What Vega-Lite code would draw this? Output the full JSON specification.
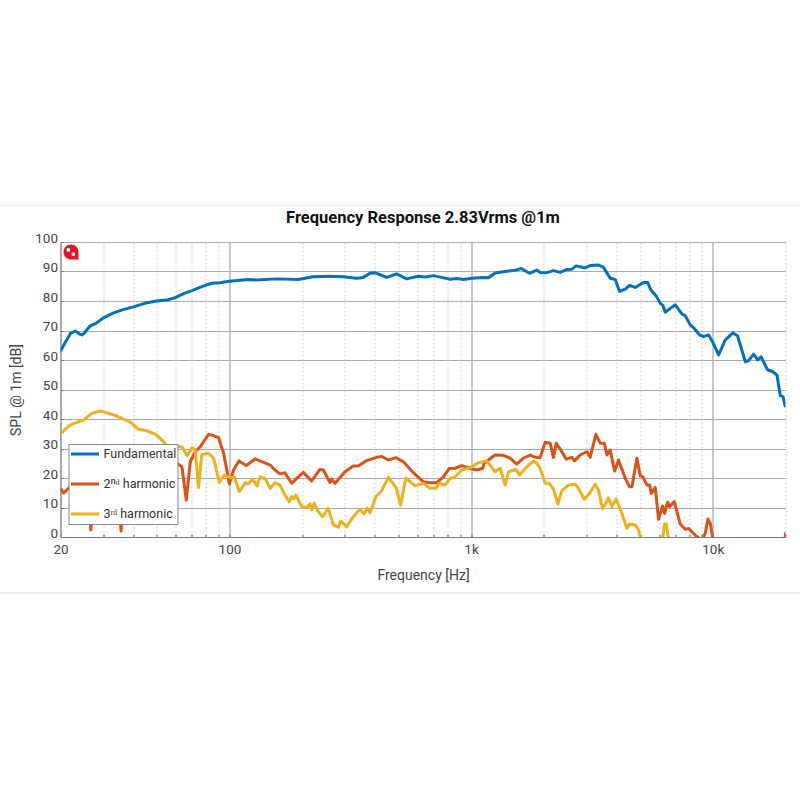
{"$schema":"https://vega.github.io/schema/vega-lite/v6.json","width":725,"height":295,"autosize":"none","padding":{"left":60.5,"top":242,"right":14.5,"bottom":263},"background":"white",
"title":{"text":"Frequency Response 2.83Vrms @1m","font":"Roboto","fontSize":16.5,"fontWeight":"bold","color":"#111111","anchor":"middle","offset":-22},
"config":{"view":{"stroke":null}},
"datasets":{"curves":[
{"f":20,"spl":63,"series":"Fundamental"},{"f":21,"spl":66.2,"series":"Fundamental"},{"f":22,"spl":69,"series":"Fundamental"},{"f":23,"spl":69.8,"series":"Fundamental"},{"f":24,"spl":68.8,"series":"Fundamental"},{"f":24.5,"spl":68.5,"series":"Fundamental"},{"f":25,"spl":69,"series":"Fundamental"},{"f":26.5,"spl":71.5,"series":"Fundamental"},{"f":28,"spl":72.4,"series":"Fundamental"},{"f":30,"spl":74.2,"series":"Fundamental"},{"f":33,"spl":75.9,"series":"Fundamental"},{"f":36,"spl":77,"series":"Fundamental"},{"f":40,"spl":78,"series":"Fundamental"},{"f":45,"spl":79.3,"series":"Fundamental"},{"f":50,"spl":80,"series":"Fundamental"},{"f":55,"spl":80.3,"series":"Fundamental"},{"f":60,"spl":81.2,"series":"Fundamental"},{"f":65,"spl":82.6,"series":"Fundamental"},{"f":70,"spl":83.5,"series":"Fundamental"},{"f":75,"spl":84.5,"series":"Fundamental"},{"f":80,"spl":85.4,"series":"Fundamental"},{"f":85,"spl":86,"series":"Fundamental"},{"f":91,"spl":86.2,"series":"Fundamental"},{"f":100,"spl":86.7,"series":"Fundamental"},{"f":119.6,"spl":87.3,"series":"Fundamental"},{"f":129.6,"spl":87.1,"series":"Fundamental"},{"f":156.8,"spl":87.5,"series":"Fundamental"},{"f":192.8,"spl":87.3,"series":"Fundamental"},{"f":222,"spl":88.2,"series":"Fundamental"},{"f":260.7,"spl":88.4,"series":"Fundamental"},{"f":296,"spl":88.2,"series":"Fundamental"},{"f":336,"spl":87.7,"series":"Fundamental"},{"f":358,"spl":88,"series":"Fundamental"},{"f":382,"spl":89.4,"series":"Fundamental"},{"f":400,"spl":89.6,"series":"Fundamental"},{"f":448,"spl":88,"series":"Fundamental"},{"f":492,"spl":89.2,"series":"Fundamental"},{"f":541,"spl":87.5,"series":"Fundamental"},{"f":605,"spl":88.4,"series":"Fundamental"},{"f":644,"spl":88.1,"series":"Fundamental"},{"f":698,"spl":88.6,"series":"Fundamental"},{"f":820,"spl":87.4,"series":"Fundamental"},{"f":875,"spl":87.6,"series":"Fundamental"},{"f":931,"spl":87.3,"series":"Fundamental"},{"f":1007,"spl":87.7,"series":"Fundamental"},{"f":1108,"spl":88,"series":"Fundamental"},{"f":1181,"spl":87.9,"series":"Fundamental"},{"f":1258,"spl":89.5,"series":"Fundamental"},{"f":1406,"spl":90.1,"series":"Fundamental"},{"f":1500,"spl":90.3,"series":"Fundamental"},{"f":1613,"spl":91,"series":"Fundamental"},{"f":1743,"spl":89.4,"series":"Fundamental"},{"f":1870,"spl":90.5,"series":"Fundamental"},{"f":1931,"spl":89.7,"series":"Fundamental"},{"f":2058,"spl":89.6,"series":"Fundamental"},{"f":2193,"spl":90.3,"series":"Fundamental"},{"f":2337,"spl":89.7,"series":"Fundamental"},{"f":2490,"spl":90.7,"series":"Fundamental"},{"f":2612,"spl":90.8,"series":"Fundamental"},{"f":2722,"spl":91.9,"series":"Fundamental"},{"f":2966,"spl":91.2,"series":"Fundamental"},{"f":3110,"spl":92,"series":"Fundamental"},{"f":3368,"spl":92.2,"series":"Fundamental"},{"f":3532,"spl":91.4,"series":"Fundamental"},{"f":3765,"spl":87.7,"series":"Fundamental"},{"f":3948,"spl":87.3,"series":"Fundamental"},{"f":4114,"spl":83.3,"series":"Fundamental"},{"f":4344,"spl":84,"series":"Fundamental"},{"f":4526,"spl":85.3,"series":"Fundamental"},{"f":4777,"spl":84.6,"series":"Fundamental"},{"f":5174,"spl":86.3,"series":"Fundamental"},{"f":5375,"spl":86.3,"series":"Fundamental"},{"f":5548,"spl":83.7,"series":"Fundamental"},{"f":5836,"spl":81.7,"series":"Fundamental"},{"f":6063,"spl":79.2,"series":"Fundamental"},{"f":6220,"spl":78.5,"series":"Fundamental"},{"f":6360,"spl":76.2,"series":"Fundamental"},{"f":6670,"spl":77.5,"series":"Fundamental"},{"f":6997,"spl":78.7,"series":"Fundamental"},{"f":7455,"spl":75.6,"series":"Fundamental"},{"f":7694,"spl":75,"series":"Fundamental"},{"f":8072,"spl":71.9,"series":"Fundamental"},{"f":8388,"spl":70.7,"series":"Fundamental"},{"f":8824,"spl":68.5,"series":"Fundamental"},{"f":9166,"spl":67.9,"series":"Fundamental"},{"f":9614,"spl":68.5,"series":"Fundamental"},{"f":10020,"spl":65.9,"series":"Fundamental"},{"f":10576,"spl":61.7,"series":"Fundamental"},{"f":11270,"spl":66.8,"series":"Fundamental"},{"f":12126,"spl":69.2,"series":"Fundamental"},{"f":12678,"spl":68.1,"series":"Fundamental"},{"f":13640,"spl":59.4,"series":"Fundamental"},{"f":14080,"spl":59.8,"series":"Fundamental"},{"f":14760,"spl":62,"series":"Fundamental"},{"f":15340,"spl":60,"series":"Fundamental"},{"f":15840,"spl":61.1,"series":"Fundamental"},{"f":16880,"spl":56.6,"series":"Fundamental"},{"f":17590,"spl":56.2,"series":"Fundamental"},{"f":18440,"spl":54.9,"series":"Fundamental"},{"f":19040,"spl":47.9,"series":"Fundamental"},{"f":19530,"spl":47.6,"series":"Fundamental"},{"f":20000,"spl":44,"series":"Fundamental"},
{"f":20,"spl":16.5,"series":"2ⁿᵈ harmonic"},{"f":20.6,"spl":14.9,"series":"2ⁿᵈ harmonic"},{"f":21.6,"spl":16.5,"series":"2ⁿᵈ harmonic"},{"f":23,"spl":20,"series":"2ⁿᵈ harmonic"},{"f":24.9,"spl":21,"series":"2ⁿᵈ harmonic"},{"f":26.1,"spl":14,"series":"2ⁿᵈ harmonic"},{"f":26.7,"spl":2.4,"series":"2ⁿᵈ harmonic"},{"f":27.4,"spl":15,"series":"2ⁿᵈ harmonic"},{"f":29.2,"spl":21,"series":"2ⁿᵈ harmonic"},{"f":33.2,"spl":21,"series":"2ⁿᵈ harmonic"},{"f":34.8,"spl":15,"series":"2ⁿᵈ harmonic"},{"f":35.6,"spl":2,"series":"2ⁿᵈ harmonic"},{"f":36.5,"spl":15,"series":"2ⁿᵈ harmonic"},{"f":40.1,"spl":23,"series":"2ⁿᵈ harmonic"},{"f":47,"spl":25,"series":"2ⁿᵈ harmonic"},{"f":55.1,"spl":26,"series":"2ⁿᵈ harmonic"},{"f":60.6,"spl":25,"series":"2ⁿᵈ harmonic"},{"f":63.6,"spl":23.8,"series":"2ⁿᵈ harmonic"},{"f":66.3,"spl":12.5,"series":"2ⁿᵈ harmonic"},{"f":68.9,"spl":25.5,"series":"2ⁿᵈ harmonic"},{"f":72.2,"spl":28.9,"series":"2ⁿᵈ harmonic"},{"f":75.7,"spl":30.6,"series":"2ⁿᵈ harmonic"},{"f":82,"spl":34.8,"series":"2ⁿᵈ harmonic"},{"f":86,"spl":34.4,"series":"2ⁿᵈ harmonic"},{"f":90.2,"spl":33.7,"series":"2ⁿᵈ harmonic"},{"f":94.6,"spl":28.4,"series":"2ⁿᵈ harmonic"},{"f":100,"spl":18,"series":"2ⁿᵈ harmonic"},{"f":104,"spl":22.7,"series":"2ⁿᵈ harmonic"},{"f":109.5,"spl":25.8,"series":"2ⁿᵈ harmonic"},{"f":117.4,"spl":24.2,"series":"2ⁿᵈ harmonic"},{"f":128,"spl":26.5,"series":"2ⁿᵈ harmonic"},{"f":138.6,"spl":25.3,"series":"2ⁿᵈ harmonic"},{"f":147.6,"spl":24.4,"series":"2ⁿᵈ harmonic"},{"f":154.3,"spl":22.7,"series":"2ⁿᵈ harmonic"},{"f":161.8,"spl":21.4,"series":"2ⁿᵈ harmonic"},{"f":169.7,"spl":21.8,"series":"2ⁿᵈ harmonic"},{"f":180.9,"spl":18.2,"series":"2ⁿᵈ harmonic"},{"f":192.8,"spl":20.4,"series":"2ⁿᵈ harmonic"},{"f":202.2,"spl":21.9,"series":"2ⁿᵈ harmonic"},{"f":218.9,"spl":19,"series":"2ⁿᵈ harmonic"},{"f":237,"spl":22.9,"series":"2ⁿᵈ harmonic"},{"f":244.7,"spl":22.7,"series":"2ⁿᵈ harmonic"},{"f":260.7,"spl":18.5,"series":"2ⁿᵈ harmonic"},{"f":264.9,"spl":19.6,"series":"2ⁿᵈ harmonic"},{"f":273.5,"spl":18.2,"series":"2ⁿᵈ harmonic"},{"f":300.8,"spl":22.1,"series":"2ⁿᵈ harmonic"},{"f":325.6,"spl":24.1,"series":"2ⁿᵈ harmonic"},{"f":341.5,"spl":24.1,"series":"2ⁿᵈ harmonic"},{"f":369.8,"spl":25.9,"series":"2ⁿᵈ harmonic"},{"f":406.8,"spl":27,"series":"2ⁿᵈ harmonic"},{"f":426.7,"spl":27.3,"series":"2ⁿᵈ harmonic"},{"f":454.7,"spl":26.1,"series":"2ⁿᵈ harmonic"},{"f":489.2,"spl":26.9,"series":"2ⁿᵈ harmonic"},{"f":524.6,"spl":25.5,"series":"2ⁿᵈ harmonic"},{"f":576.8,"spl":21.8,"series":"2ⁿᵈ harmonic"},{"f":634.9,"spl":18.7,"series":"2ⁿᵈ harmonic"},{"f":676.4,"spl":18.4,"series":"2ⁿᵈ harmonic"},{"f":720.9,"spl":18.4,"series":"2ⁿᵈ harmonic"},{"f":768.4,"spl":20.4,"series":"2ⁿᵈ harmonic"},{"f":810.9,"spl":23.2,"series":"2ⁿᵈ harmonic"},{"f":858.7,"spl":23.3,"series":"2ⁿᵈ harmonic"},{"f":915,"spl":24.2,"series":"2ⁿᵈ harmonic"},{"f":990.6,"spl":23.3,"series":"2ⁿᵈ harmonic"},{"f":1055.6,"spl":22.7,"series":"2ⁿᵈ harmonic"},{"f":1117.7,"spl":23.3,"series":"2ⁿᵈ harmonic"},{"f":1132,"spl":25,"series":"2ⁿᵈ harmonic"},{"f":1180,"spl":26.1,"series":"2ⁿᵈ harmonic"},{"f":1257,"spl":27.8,"series":"2ⁿᵈ harmonic"},{"f":1361,"spl":27.7,"series":"2ⁿᵈ harmonic"},{"f":1450,"spl":26.7,"series":"2ⁿᵈ harmonic"},{"f":1546,"spl":24.7,"series":"2ⁿᵈ harmonic"},{"f":1647,"spl":26.7,"series":"2ⁿᵈ harmonic"},{"f":1756,"spl":27.8,"series":"2ⁿᵈ harmonic"},{"f":1841,"spl":27,"series":"2ⁿᵈ harmonic"},{"f":1931,"spl":26.9,"series":"2ⁿᵈ harmonic"},{"f":2026,"spl":32.1,"series":"2ⁿᵈ harmonic"},{"f":2125,"spl":31.8,"series":"2ⁿᵈ harmonic"},{"f":2193,"spl":27,"series":"2ⁿᵈ harmonic"},{"f":2250,"spl":31.8,"series":"2ⁿᵈ harmonic"},{"f":2337,"spl":29.8,"series":"2ⁿᵈ harmonic"},{"f":2475,"spl":26.4,"series":"2ⁿᵈ harmonic"},{"f":2612,"spl":27,"series":"2ⁿᵈ harmonic"},{"f":2679,"spl":25.8,"series":"2ⁿᵈ harmonic"},{"f":2828,"spl":27.8,"series":"2ⁿᵈ harmonic"},{"f":3014,"spl":28.9,"series":"2ⁿᵈ harmonic"},{"f":3110,"spl":27,"series":"2ⁿᵈ harmonic"},{"f":3284,"spl":34.8,"series":"2ⁿᵈ harmonic"},{"f":3422,"spl":31.8,"series":"2ⁿᵈ harmonic"},{"f":3556,"spl":31.8,"series":"2ⁿᵈ harmonic"},{"f":3648,"spl":27.8,"series":"2ⁿᵈ harmonic"},{"f":3765,"spl":29.5,"series":"2ⁿᵈ harmonic"},{"f":3924,"spl":22.4,"series":"2ⁿᵈ harmonic"},{"f":4076,"spl":26.1,"series":"2ⁿᵈ harmonic"},{"f":4344,"spl":19.9,"series":"2ⁿᵈ harmonic"},{"f":4526,"spl":17,"series":"2ⁿᵈ harmonic"},{"f":4628,"spl":17,"series":"2ⁿᵈ harmonic"},{"f":4855,"spl":26.7,"series":"2ⁿᵈ harmonic"},{"f":5012,"spl":20.7,"series":"2ⁿᵈ harmonic"},{"f":5141,"spl":20.4,"series":"2ⁿᵈ harmonic"},{"f":5342,"spl":17.6,"series":"2ⁿᵈ harmonic"},{"f":5480,"spl":17.6,"series":"2ⁿᵈ harmonic"},{"f":5567,"spl":14.8,"series":"2ⁿᵈ harmonic"},{"f":5782,"spl":16.8,"series":"2ⁿᵈ harmonic"},{"f":5968,"spl":6,"series":"2ⁿᵈ harmonic"},{"f":6200,"spl":10.5,"series":"2ⁿᵈ harmonic"},{"f":6320,"spl":8,"series":"2ⁿᵈ harmonic"},{"f":6502,"spl":11.8,"series":"2ⁿᵈ harmonic"},{"f":6630,"spl":10.3,"series":"2ⁿᵈ harmonic"},{"f":6930,"spl":12,"series":"2ⁿᵈ harmonic"},{"f":7336,"spl":4.4,"series":"2ⁿᵈ harmonic"},{"f":7694,"spl":2.6,"series":"2ⁿᵈ harmonic"},{"f":7943,"spl":2.9,"series":"2ⁿᵈ harmonic"},{"f":8600,"spl":0.1,"series":"2ⁿᵈ harmonic"},{"f":9020,"spl":-1,"series":"2ⁿᵈ harmonic"},{"f":9312,"spl":1.3,"series":"2ⁿᵈ harmonic"},{"f":9552,"spl":6.1,"series":"2ⁿᵈ harmonic"},{"f":9770,"spl":4.6,"series":"2ⁿᵈ harmonic"},{"f":9990,"spl":0,"series":"2ⁿᵈ harmonic"},{"f":10150,"spl":-5,"series":"2ⁿᵈ harmonic"},{"f":19340,"spl":-5,"series":"2ⁿᵈ harmonic"},{"f":19950,"spl":0,"series":"2ⁿᵈ harmonic"},{"f":20000,"spl":1.6,"series":"2ⁿᵈ harmonic"},
{"f":20,"spl":34.9,"series":"3ʳᵈ harmonic"},{"f":20.9,"spl":36.5,"series":"3ʳᵈ harmonic"},{"f":21.9,"spl":37.9,"series":"3ʳᵈ harmonic"},{"f":24.9,"spl":39.7,"series":"3ʳᵈ harmonic"},{"f":26.96,"spl":41.9,"series":"3ʳᵈ harmonic"},{"f":29.2,"spl":42.7,"series":"3ʳᵈ harmonic"},{"f":31.6,"spl":41.9,"series":"3ʳᵈ harmonic"},{"f":34.2,"spl":41,"series":"3ʳᵈ harmonic"},{"f":38.9,"spl":38.9,"series":"3ʳᵈ harmonic"},{"f":42.1,"spl":36.5,"series":"3ʳᵈ harmonic"},{"f":45.6,"spl":36,"series":"3ʳᵈ harmonic"},{"f":49.3,"spl":34.9,"series":"3ʳᵈ harmonic"},{"f":53.4,"spl":32.3,"series":"3ʳᵈ harmonic"},{"f":56,"spl":30,"series":"3ʳᵈ harmonic"},{"f":60.6,"spl":30.6,"series":"3ʳᵈ harmonic"},{"f":63.6,"spl":30.6,"series":"3ʳᵈ harmonic"},{"f":66.7,"spl":27.6,"series":"3ʳᵈ harmonic"},{"f":70,"spl":30.3,"series":"3ʳᵈ harmonic"},{"f":72.2,"spl":29.5,"series":"3ʳᵈ harmonic"},{"f":74.5,"spl":16.8,"series":"3ʳᵈ harmonic"},{"f":76.9,"spl":28,"series":"3ʳᵈ harmonic"},{"f":82,"spl":28.4,"series":"3ʳᵈ harmonic"},{"f":86,"spl":26.7,"series":"3ʳᵈ harmonic"},{"f":90.8,"spl":18.5,"series":"3ʳᵈ harmonic"},{"f":95.2,"spl":21,"series":"3ʳᵈ harmonic"},{"f":100.9,"spl":20.1,"series":"3ʳᵈ harmonic"},{"f":105.1,"spl":20.2,"series":"3ʳᵈ harmonic"},{"f":109.9,"spl":15.4,"series":"3ʳᵈ harmonic"},{"f":116.3,"spl":18.4,"series":"3ʳᵈ harmonic"},{"f":120.1,"spl":18.1,"series":"3ʳᵈ harmonic"},{"f":124.7,"spl":19.6,"series":"3ʳᵈ harmonic"},{"f":130,"spl":17.3,"series":"3ʳᵈ harmonic"},{"f":134.2,"spl":20.4,"series":"3ʳᵈ harmonic"},{"f":140.8,"spl":19.7,"series":"3ʳᵈ harmonic"},{"f":147.6,"spl":16.5,"series":"3ʳᵈ harmonic"},{"f":154.3,"spl":18.4,"series":"3ʳᵈ harmonic"},{"f":161.8,"spl":17.6,"series":"3ʳᵈ harmonic"},{"f":169.7,"spl":14.2,"series":"3ʳᵈ harmonic"},{"f":176.9,"spl":12,"series":"3ʳᵈ harmonic"},{"f":180.9,"spl":13.7,"series":"3ʳᵈ harmonic"},{"f":184.9,"spl":13,"series":"3ʳᵈ harmonic"},{"f":188.6,"spl":14.2,"series":"3ʳᵈ harmonic"},{"f":199,"spl":10.3,"series":"3ʳᵈ harmonic"},{"f":208.7,"spl":10,"series":"3ʳᵈ harmonic"},{"f":215.4,"spl":11.2,"series":"3ʳᵈ harmonic"},{"f":218.9,"spl":9.2,"series":"3ʳᵈ harmonic"},{"f":224.5,"spl":11.4,"series":"3ʳᵈ harmonic"},{"f":231.8,"spl":8.9,"series":"3ʳᵈ harmonic"},{"f":243,"spl":6.9,"series":"3ʳᵈ harmonic"},{"f":256.6,"spl":9.7,"series":"3ʳᵈ harmonic"},{"f":269.2,"spl":4.1,"series":"3ʳᵈ harmonic"},{"f":282.3,"spl":3.3,"series":"3ʳᵈ harmonic"},{"f":288.7,"spl":5.4,"series":"3ʳᵈ harmonic"},{"f":305.6,"spl":3.5,"series":"3ʳᵈ harmonic"},{"f":325.6,"spl":6.9,"series":"3ʳᵈ harmonic"},{"f":347,"spl":9.4,"series":"3ʳᵈ harmonic"},{"f":360.5,"spl":7.8,"series":"3ʳᵈ harmonic"},{"f":372,"spl":9.7,"series":"3ʳᵈ harmonic"},{"f":381.8,"spl":8.2,"series":"3ʳᵈ harmonic"},{"f":404.3,"spl":13.7,"series":"3ʳᵈ harmonic"},{"f":426.7,"spl":15.7,"series":"3ʳᵈ harmonic"},{"f":454.7,"spl":20.2,"series":"3ʳᵈ harmonic"},{"f":489.2,"spl":16.8,"series":"3ʳᵈ harmonic"},{"f":511.4,"spl":10.8,"series":"3ʳᵈ harmonic"},{"f":536.4,"spl":19.9,"series":"3ʳᵈ harmonic"},{"f":586.2,"spl":17.4,"series":"3ʳᵈ harmonic"},{"f":634.9,"spl":18.2,"series":"3ʳᵈ harmonic"},{"f":676.4,"spl":16.5,"series":"3ʳᵈ harmonic"},{"f":714,"spl":16.5,"series":"3ʳᵈ harmonic"},{"f":737,"spl":18.2,"series":"3ʳᵈ harmonic"},{"f":780.4,"spl":17.6,"series":"3ʳᵈ harmonic"},{"f":818.5,"spl":19.9,"series":"3ʳᵈ harmonic"},{"f":858.7,"spl":20.4,"series":"3ʳᵈ harmonic"},{"f":915,"spl":22.7,"series":"3ʳᵈ harmonic"},{"f":990.6,"spl":23.5,"series":"3ʳᵈ harmonic"},{"f":1072,"spl":25.2,"series":"3ʳᵈ harmonic"},{"f":1161,"spl":25.8,"series":"3ʳᵈ harmonic"},{"f":1257,"spl":22.1,"series":"3ʳᵈ harmonic"},{"f":1319,"spl":23.3,"series":"3ʳᵈ harmonic"},{"f":1383,"spl":17.6,"series":"3ʳᵈ harmonic"},{"f":1428,"spl":22.1,"series":"3ʳᵈ harmonic"},{"f":1536,"spl":22.9,"series":"3ʳᵈ harmonic"},{"f":1585,"spl":21,"series":"3ʳᵈ harmonic"},{"f":1701,"spl":23.8,"series":"3ʳᵈ harmonic"},{"f":1812,"spl":25.8,"series":"3ʳᵈ harmonic"},{"f":1870,"spl":25,"series":"3ʳᵈ harmonic"},{"f":1931,"spl":23.3,"series":"3ʳᵈ harmonic"},{"f":2026,"spl":18.2,"series":"3ʳᵈ harmonic"},{"f":2104,"spl":18.2,"series":"3ʳᵈ harmonic"},{"f":2193,"spl":16.2,"series":"3ʳᵈ harmonic"},{"f":2286,"spl":11.2,"series":"3ʳᵈ harmonic"},{"f":2374,"spl":15.7,"series":"3ʳᵈ harmonic"},{"f":2530,"spl":17.6,"series":"3ʳᵈ harmonic"},{"f":2696,"spl":17.9,"series":"3ʳᵈ harmonic"},{"f":2782,"spl":16.5,"series":"3ʳᵈ harmonic"},{"f":2938,"spl":12.8,"series":"3ʳᵈ harmonic"},{"f":3091,"spl":14.8,"series":"3ʳᵈ harmonic"},{"f":3263,"spl":17.9,"series":"3ʳᵈ harmonic"},{"f":3368,"spl":15.9,"series":"3ʳᵈ harmonic"},{"f":3499,"spl":9.5,"series":"3ʳᵈ harmonic"},{"f":3706,"spl":13.3,"series":"3ʳᵈ harmonic"},{"f":3825,"spl":10.3,"series":"3ʳᵈ harmonic"},{"f":3984,"spl":12.9,"series":"3ʳᵈ harmonic"},{"f":4208,"spl":8,"series":"3ʳᵈ harmonic"},{"f":4414,"spl":2.9,"series":"3ʳᵈ harmonic"},{"f":4513,"spl":4.4,"series":"3ʳᵈ harmonic"},{"f":4777,"spl":4.1,"series":"3ʳᵈ harmonic"},{"f":4932,"spl":2.4,"series":"3ʳᵈ harmonic"},{"f":5044,"spl":-1,"series":"3ʳᵈ harmonic"},{"f":5174,"spl":-5,"series":"3ʳᵈ harmonic"},{"f":6063,"spl":-5,"series":"3ʳᵈ harmonic"},{"f":6220,"spl":0,"series":"3ʳᵈ harmonic"},{"f":6320,"spl":4.4,"series":"3ʳᵈ harmonic"},{"f":6420,"spl":4.4,"series":"3ʳᵈ harmonic"},{"f":6545,"spl":0,"series":"3ʳᵈ harmonic"},{"f":6670,"spl":-5,"series":"3ʳᵈ harmonic"},{"f":20000,"spl":-5,"series":"3ʳᵈ harmonic"}
],"logo":[{"f":22.1,"spl":96.6}],"dots":[{"f":21.55,"spl":97.3},{"f":22.6,"spl":95.9}],"bands":[{"f":11.2,"f2":22950,"spl":112.4},{"f":11.2,"f2":22950,"spl":-19}]},
"encoding":{
"x":{"field":"f","type":"quantitative","title":"Frequency [Hz]","scale":{"type":"log","base":10,"domain":[20,20000],"nice":false},
"axis":{"values":[20,30,40,50,60,70,80,90,100,200,300,400,500,600,700,800,900,1000,2000,3000,4000,5000,6000,7000,8000,9000,10000,20000],
"labelExpr":"datum.value==20?'20':datum.value==100?'100':datum.value==1000?'1k':datum.value==10000?'10k':''","labelFont":"Roboto","labelFontSize":13.5,"labelColor":"#444444","labelPadding":8,"labelOverlap":false,"labelFlush":false,
"grid":true,"gridColor":{"condition":{"test":"datum.value==100||datum.value==1000||datum.value==10000","value":"#aaaaaa"},"value":"#cfcfcf"},"gridWidth":{"condition":{"test":"datum.value==100||datum.value==1000||datum.value==10000","value":1.3},"value":1},"gridDash":{"condition":{"test":"datum.value==100||datum.value==1000||datum.value==10000","value":[]},"value":[2,2]},
"tickSize":-3,"tickColor":"#777777","domainColor":"#777777","domainWidth":1.2,
"titleFont":"Roboto","titleFontSize":14,"titleFontWeight":"normal","titleColor":"#444444","titlePadding":13}},
"y":{"field":"spl","type":"quantitative","title":"SPL @ 1m [dB]","scale":{"domain":[0,100],"nice":false},
"axis":{"values":[0,10,20,30,40,50,60,70,80,90,100],"labelFont":"Roboto","labelFontSize":13.5,"labelColor":"#444444","labelPadding":6,"labelOffset":-4,"labelOverlap":false,"grid":true,"gridColor":"#aaaaaa","gridWidth":1.1,"tickSize":-3,"tickColor":"#777777","domainColor":"#777777","domainWidth":1.2,"titleFont":"Roboto","titleFontSize":14,"titleFontWeight":"normal","titleColor":"#444444","titlePadding":11}}
},
"layer":[
{"data":{"name":"bands"},"mark":{"type":"rule","color":"#eeeeee","strokeWidth":2,"clip":false},"encoding":{"x2":{"field":"f2"}}},
{"data":{"name":"curves"},"mark":{"type":"line","strokeWidth":3,"clip":true,"strokeJoin":"round"},
"encoding":{
"color":{"field":"series","type":"nominal","sort":null,"scale":{"domain":["Fundamental","2ⁿᵈ harmonic","3ʳᵈ harmonic"],"range":["#0072BD","#D95319","#EDB120"]},
"legend":{"title":null,"orient":"none","legendX":8,"legendY":202,"fillColor":"white","strokeColor":"#888888","padding":1,"symbolType":"stroke","symbolSize":784,"symbolStrokeWidth":3,"clipHeight":18,"labelFont":"Roboto","labelFontSize":12.5,"labelColor":"#333333","rowPadding":12,"labelOffset":3}}}},
{"data":{"name":"logo"},"mark":{"type":"point","filled":true,"shape":"M -1 0 A 1 1 0 0 1 1 0 L 1 1 L 0 1 A 1 1 0 0 1 -1 0 Z","size":225,"color":"#E3152B","opacity":1,"clip":false}},
{"data":{"name":"dots"},"mark":{"type":"point","filled":true,"shape":"circle","size":14,"color":"white","opacity":1}}
]}
